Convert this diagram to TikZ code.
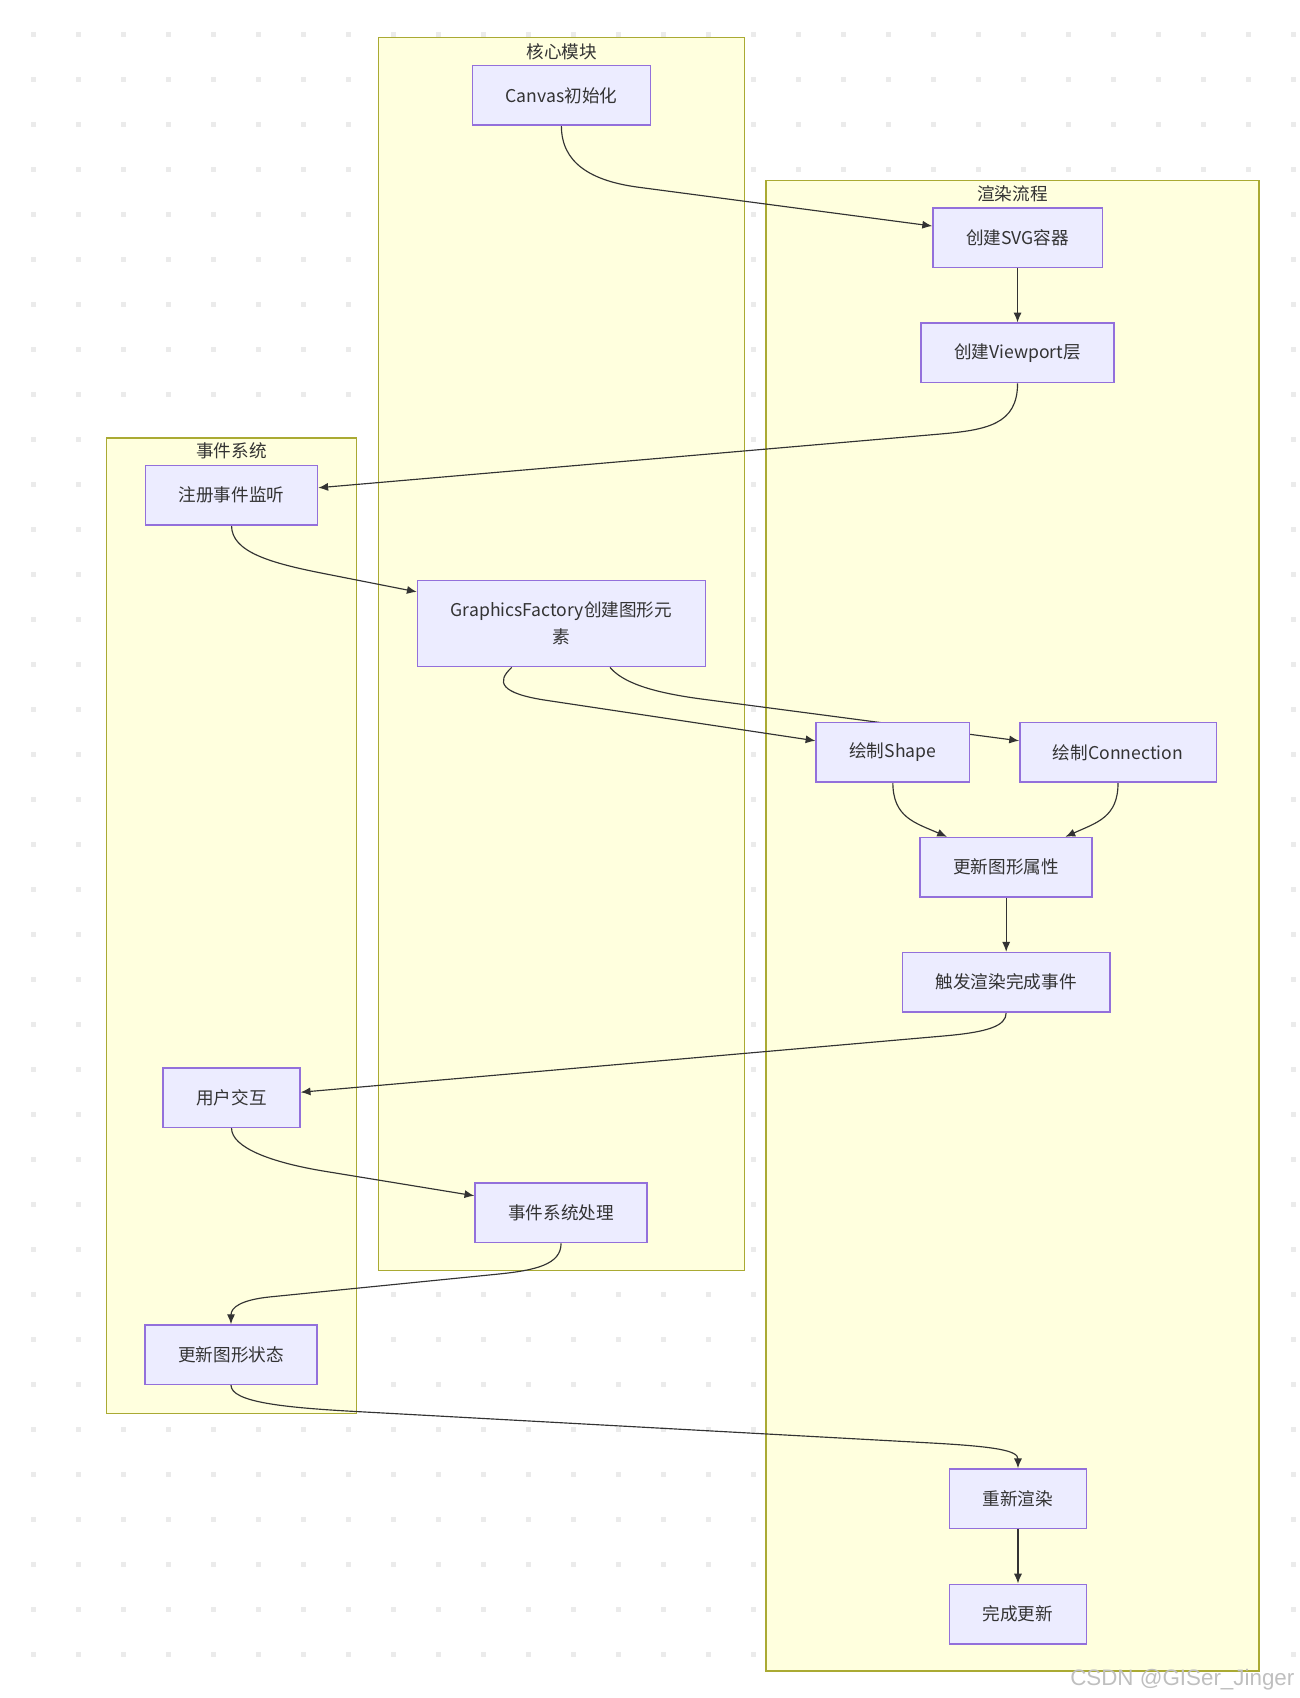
\documentclass[tikz,border=0pt]{standalone}
\usepackage{fontspec}
\setmainfont{Noto Sans CJK SC}
\newfontfamily\markfont{Liberation Sans}
\usetikzlibrary{arrows.meta}
\definecolor{boxfill}{HTML}{ECECFF}
\definecolor{boxline}{HTML}{9370DB}
\definecolor{groupfill}{HTML}{FFFFDE}
\definecolor{groupline}{HTML}{AAAA33}
\definecolor{linkcol}{HTML}{333333}
\definecolor{dotcol}{HTML}{EBEBEB}
\pgfdeclarelayer{bg}
\pgfdeclarelayer{links}
\pgfsetlayers{bg,links,main}
\tikzset{every node/.style={align=center, text=linkcol}, >={Latex[length=6.8pt,width=5.6pt]}, font=\fontsize{12.2}{18.75}\selectfont,
  box/.style={draw=boxline, fill=boxfill, line width=1pt, minimum height=41.25pt, inner xsep=23pt},
  group/.style={draw=groupline, fill=groupfill, line width=0.8pt},
  grouptitle/.style={inner sep=0pt},
  link/.style={->, draw=linkcol, line width=0.8pt}}

\begin{document}
\begin{tikzpicture}[x=0.75pt, y=-0.75pt]
            \useasboundingbox (0,0) rectangle (1200,1568.6);

            % background grid and the three groups
            \begin{pgfonlayer}{bg}
                \foreach \i in {0,...,28}
                    \foreach \j in {0,...,36}
                        \fill[dotcol] ({28.5+41.57*\i},{29.7+41.57*\j}) rectangle ++(4.6,4.6);
                \draw[group] (349.6,34.5) rectangle (687.7,1173.8);
                \draw[group] (707.6,166.7) rectangle (1163,1543.6);
                \draw[group] (98.1,404.6) rectangle (329.6,1306);
            \end{pgfonlayer}
            \node [grouptitle] (tcore) at (519,47.6) {核心模块};
            \node [grouptitle] (trender) at (935.3,178.8) {渲染流程};
            \node [grouptitle] (tevent) at (213.9,416.6) {事件系统};

            \node [box] (canvas) at (518.6,88.1) {Canvas初始化};
            \node [box] (svg) at (940,219.6) {创建SVG容器};
            \node [box] (viewport) at (940,326) {创建Viewport层};
            \node [box] (reg) at (213.9,457.4) {注册事件监听};
            \node [box, minimum height=59.7pt] (gf) at (518.6,576.1) {GraphicsFactory创建图形元\\素};
            \node [box] (shape) at (824.8,695) {绘制Shape};
            \node [box] (conn) at (1032.8,695) {绘制Connection};
            \node [box] (upd) at (929.5,801.2) {更新图形属性};
            \node [box] (trig) at (929.5,907.4) {触发渲染完成事件};
            \node [box] (user) at (213.9,1014) {用户交互};
            \node [box] (esp) at (518.3,1120.5) {事件系统处理};
            \node [box] (state) at (213.4,1251.4) {更新图形状态};
            \node [box] (rer) at (940.4,1384.5) {重新渲染};
            \node [box] (done) at (940.4,1491) {完成更新};

            \node [font=\markfont\fontsize{15.5}{18}\selectfont, text=gray!50, anchor=base east, inner sep=0pt] (mark) at (1196,1556.6) {CSDN @GISer\_Jinger};

            \begin{pgfonlayer}{links}
            \path[link] (canvas.south) .. controls (518.6,150) and (545,167.1) .. (590,173) -- ([yshift=8.1pt]svg.west);
            \path[link] (svg) -- (viewport);
            \path[link] (viewport.south) .. controls (940,392) and (912,397.2) .. (868,401) -- ([yshift=5.1pt]reg.east);
            \path[link] (reg.south) .. controls (213.9,510) and (250,520.2) .. (300,530) -- ([yshift=22pt]gf.west);
            \path[link] ([xshift=-34.4pt]gf.south) .. controls (458,630) and (462,640.6) .. (505,647) -- ([yshift=8pt]shape.west);
            \path[link] ([xshift=33.7pt]gf.south) .. controls (575,630) and (600,639.5) .. (650,646) -- ([yshift=8pt]conn.west);
            \path[link] (shape.south) .. controls (825,755) and (845,760) .. ([xshift=-41pt]upd.north);
            \path[link] (conn.south) .. controls (1033,755) and (1013,760) .. ([xshift=41pt]upd.north);
            \path[link] (upd) -- (trig);
            \path[link] (trig.south) .. controls (929.5,948) and (912,953.5) .. (872,957) -- ([yshift=3.75pt]user.east);
            \path[link] (user.south) .. controls (213.9,1060) and (250,1073.8) .. (300,1082) -- ([yshift=11.9pt]esp.west);
            \path[link] (esp.south) .. controls (518.3,1168) and (495,1173.5) .. (460,1177) -- (250,1198) .. controls (222,1200.8) and (213.4,1208) .. (state.north);
            \path[link] (state.south) .. controls (213.4,1295) and (260,1300.2) .. (330,1304) -- (860,1333) .. controls (920,1336.3) and (940.4,1340) .. (rer.north);
            \path[link] (rer) -- (done);
            \end{pgfonlayer}

        \end{tikzpicture}
\end{document}
